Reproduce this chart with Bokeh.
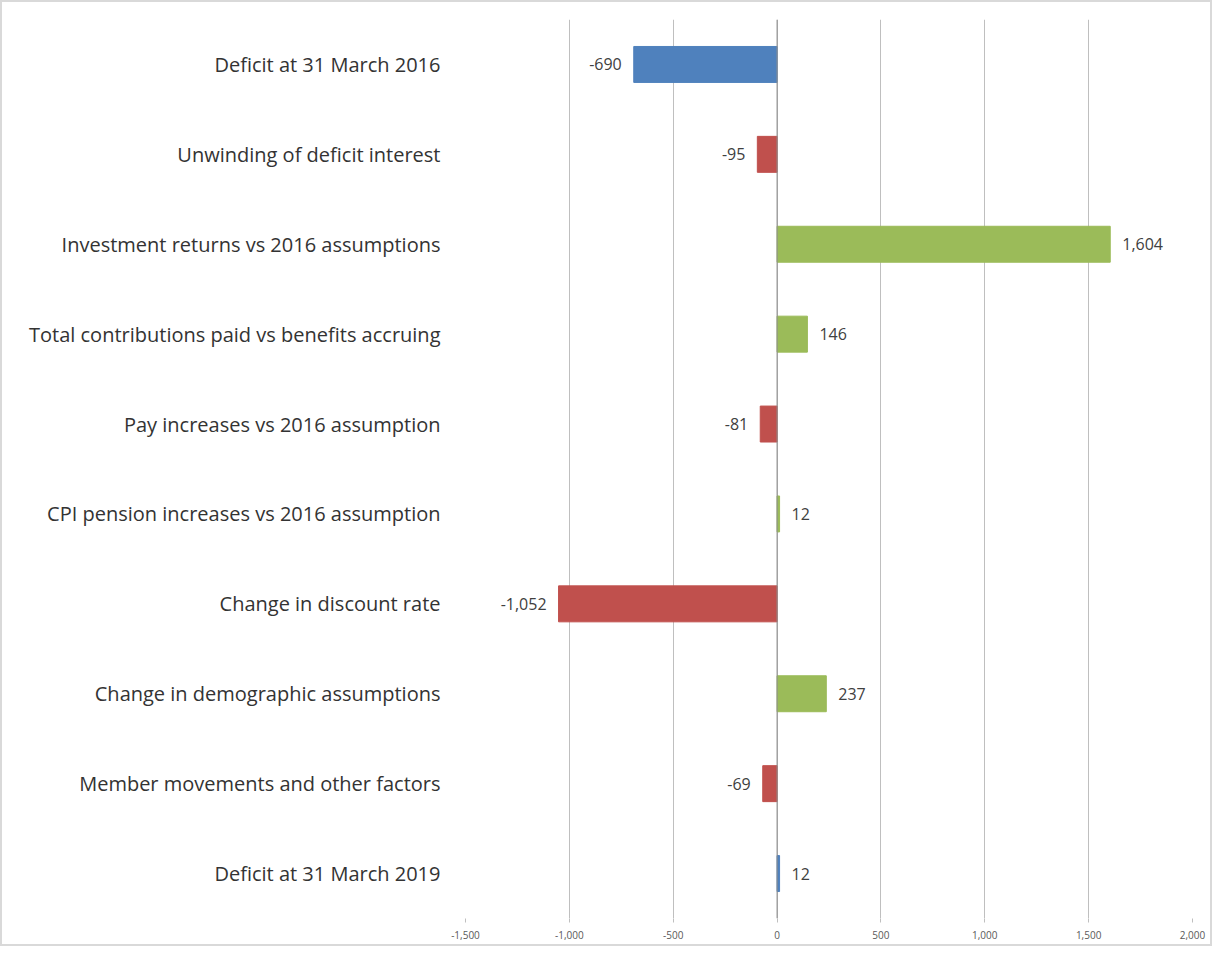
from bokeh.plotting import figure
from bokeh.models import ColumnDataSource, Span, NumeralTickFormatter, FixedTicker
from bokeh.core.properties import value
from bokeh.embed import file_html
from bokeh.resources import INLINE

categories = [
    "Deficit at 31 March 2016",
    "Unwinding of deficit interest",
    "Investment returns vs 2016 assumptions",
    "Total contributions paid vs benefits accruing",
    "Pay increases vs 2016 assumption",
    "CPI pension increases vs 2016 assumption",
    "Change in discount rate",
    "Change in demographic assumptions",
    "Member movements and other factors",
    "Deficit at 31 March 2019",
]
values = [-690, -95, 1604, 146, -81, 12, -1052, 237, -69, 12]
x_ticks = [-1500, -1000, -500, 0, 500, 1000, 1500, 2000]

BLUE, RED, GREEN = "#4F81BD", "#C0504D", "#9BBB59"
colors = []
for i, v in enumerate(values):
    if i == 0 or i == len(values) - 1:
        colors.append(BLUE)
    elif v < 0:
        colors.append(RED)
    else:
        colors.append(GREEN)
labels = [f"{v:,}" for v in values]

src = ColumnDataSource(dict(cat=categories, val=values, color=colors, label=labels))
pos = ColumnDataSource(dict(
    cat=[c for c, v in zip(categories, values) if v >= 0],
    val=[v for v in values if v >= 0],
    label=[l for l, v in zip(labels, values) if v >= 0]))
neg = ColumnDataSource(dict(
    cat=[c for c, v in zip(categories, values) if v < 0],
    val=[v for v in values if v < 0],
    label=[l for l, v in zip(labels, values) if v < 0]))

p = figure(
    y_range=list(reversed(categories)), x_range=(-1500, 2000),
    width=1212, height=946, output_backend="svg", toolbar_location=None,
    min_border_left=463, min_border_right=22, min_border_top=17, min_border_bottom=30,
)
p.styles = {"border": "2px solid #d9d9d9"}
p.outline_line_color = None
p.background_fill_color = "white"
p.border_fill_color = "white"

p.hbar(y="cat", right="val", left=0, height=0.4, color="color", source=src)

p.add_layout(Span(location=0, dimension="height", line_color="#8c8c8c", line_width=1))

p.text(x="val", y="cat", text="label", source=pos, x_offset=12,
       text_align="left", text_baseline="middle", text_font=value("Open Sans"),
       text_font_size="16px", text_color="#404040")
p.text(x="val", y="cat", text="label", source=neg, x_offset=-12,
       text_align="right", text_baseline="middle", text_font=value("Open Sans"),
       text_font_size="16px", text_color="#404040")

p.ygrid.grid_line_color = None
p.xgrid.grid_line_color = "#bfbfbf"
p.xaxis.ticker = FixedTicker(ticks=x_ticks)
p.xaxis.formatter = NumeralTickFormatter(format="0,0")
p.xaxis.axis_line_color = None
p.xaxis.major_tick_line_color = "#bfbfbf"
p.xaxis.major_tick_in = 0
p.xaxis.major_tick_out = 4
p.xaxis.minor_tick_line_color = None
p.xaxis.major_label_text_font = "Open Sans"
p.xaxis.major_label_text_font_size = "10px"
p.xaxis.major_label_text_color = "#595959"
p.xaxis.major_label_standoff = 8

p.yaxis.axis_line_color = None
p.yaxis.major_tick_line_color = None
p.yaxis.minor_tick_line_color = None
p.yaxis.major_label_text_font = "Open Sans"
p.yaxis.major_label_text_font_size = "20px"
p.yaxis.major_label_text_color = "#333333"
p.yaxis.major_label_standoff = 19

open("out.html", "w").write(file_html(p, INLINE))
